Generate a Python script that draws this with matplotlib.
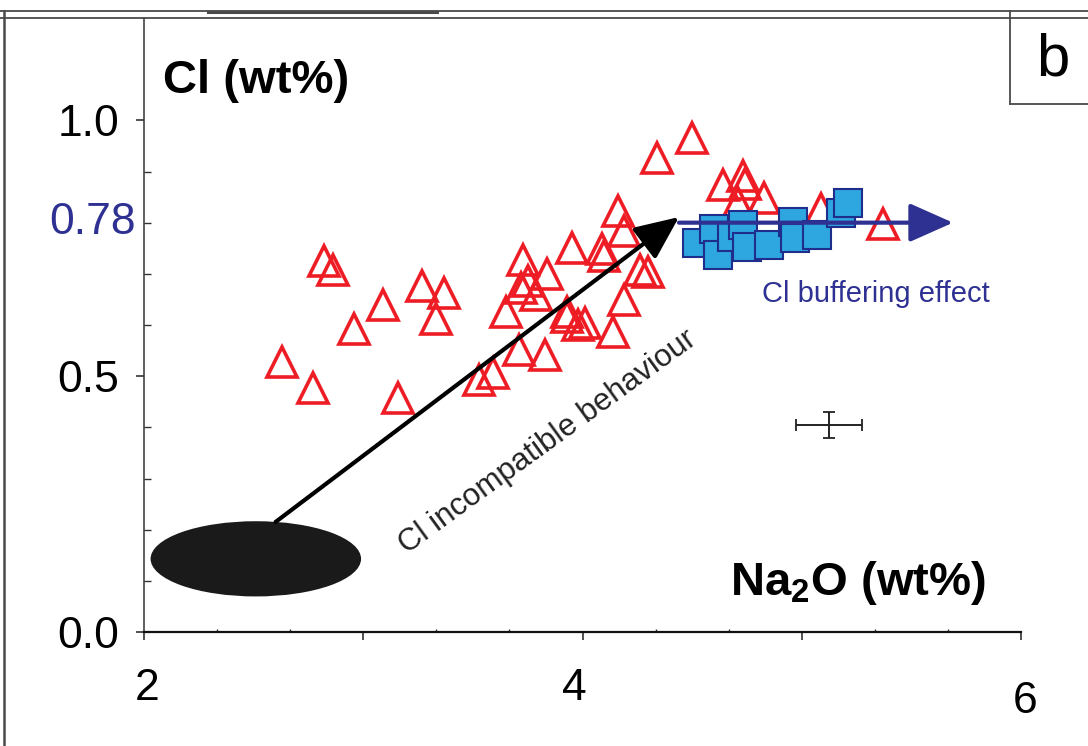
#!/usr/bin/env python3
"""Cl vs Na2O scatter, panel b."""

import matplotlib

matplotlib.use("Agg")
import matplotlib.pyplot as plt
import numpy as np
from matplotlib.lines import Line2D
from matplotlib.patches import Ellipse, FancyArrowPatch
from matplotlib.ticker import FixedLocator
from matplotlib.transforms import ScaledTranslation

# melt inclusions (open red triangles)
tri_na2o = [2.63, 2.77, 2.82, 2.86, 2.96, 3.09, 3.27, 3.37, 3.33, 3.16,
            3.53, 3.59, 3.65, 3.71, 3.73, 3.75, 3.72, 3.79, 3.84, 3.83,
            3.95, 3.93, 3.93, 3.98, 4.01, 4.14, 4.09, 4.10, 4.16, 4.19,
            4.19, 4.26, 4.30, 4.34, 4.50, 4.64, 4.73, 4.71, 4.83, 5.09,
            5.37, 4.74]
tri_cl = [0.528, 0.477, 0.725, 0.708, 0.592, 0.639, 0.676, 0.663, 0.612, 0.457,
          0.493, 0.506, 0.626, 0.551, 0.727, 0.686, 0.673, 0.659, 0.700, 0.542,
          0.751, 0.626, 0.616, 0.600, 0.604, 0.587, 0.749, 0.735, 0.823, 0.784,
          0.649, 0.708, 0.704, 0.927, 0.966, 0.874, 0.891, 0.839, 0.848, 0.827,
          0.798, 0.876]

# buffered group (blue squares)
sq_na2o = [4.52, 4.60, 4.62, 4.68, 4.73, 4.75, 4.85, 4.96, 4.97, 5.07, 5.18, 5.21]
sq_cl = [0.761, 0.788, 0.737, 0.772, 0.796, 0.753, 0.757, 0.802, 0.770, 0.776,
         0.819, 0.839]

# parental melt field
field_center = (2.51, 0.143)
field_width = 0.96
field_height = 0.147

# trends
incompat_start = (2.60, 0.215)
incompat_end = (4.44, 0.811)
buffer_level = 0.80
buffer_x = (4.44, 5.69)

# typical analytical error
err_x, err_y = 5.124, 0.405
err_dx, err_dy = 0.15, 0.025

x_ticks = [2, 3, 4, 5, 6]
x_labels = ["2", "", "4", "", "6"]
y_ticks = [0.0, 0.5, 1.0]
y_labels = ["0.0", "0.5", "1.0"]

RED = "#ee1c24"
NAVY = "#2e3192"
SQ_FILL = "#2ea6df"
SQ_EDGE = "#1f2d8c"
FRAME = "#4a4a4a"


def main() -> None:
    W, H = 1088, 746
    plt.rcParams.update({
        "font.family": ["Liberation Sans", "DejaVu Sans"],
        "mathtext.fontset": "custom",
        "mathtext.rm": "Liberation Sans:bold",
        "mathtext.bf": "Liberation Sans:bold",
        "mathtext.default": "bf",
    })
    fig = plt.figure(figsize=(W / 100, H / 100), dpi=100)
    ax = fig.add_axes([144 / W, (H - 632) / H, 877 / W, 614 / H])
    ax.set_xlim(2, 6)
    ax.set_ylim(0, 1.2)
    ax.patch.set_alpha(0)

    for side in ("top", "right"):
        ax.spines[side].set_visible(False)
    ax.spines["bottom"].set_linewidth(1.6)
    ax.spines["bottom"].set_color("#111111")
    ax.spines["left"].set_linewidth(1.1)
    ax.spines["left"].set_color("#333333")

    ax.set_xticks(x_ticks, x_labels)
    ax.xaxis.set_minor_locator(FixedLocator(np.arange(2, 6.01, 1 / 3)))
    ax.set_yticks(y_ticks, y_labels)
    ax.yaxis.set_minor_locator(FixedLocator(np.arange(0.1, 1.01, 0.1)))
    ax.tick_params(axis="both", which="major", direction="out", length=6,
                   width=1.1, labelsize=32, color="#222222")
    ax.tick_params(axis="x", which="major", pad=20)
    ax.tick_params(axis="y", which="major", pad=12)
    ax.tick_params(axis="both", which="minor", direction="in", length=5,
                   width=1.0, color="#333333")
    ax.tick_params(axis="x", which="minor", length=2.5)

    # staggered x tick labels as in the original panel
    offsets = [(2, 0), (0, 0), (-6, 0), (0, 0), (3, -9)]
    for lab, (dx, dy) in zip(ax.get_xticklabels(), offsets):
        lab.set_transform(lab.get_transform()
                          + ScaledTranslation(dx / 72, dy / 72, fig.dpi_scale_trans))

    ax.annotate("0.78", xy=(0, buffer_level), xycoords=("axes fraction", "data"),
                xytext=(-6, 0), textcoords="offset points", ha="right",
                va="center", fontsize=32, color=NAVY)

    ax.add_patch(Ellipse(field_center, field_width, field_height,
                         facecolor="#1a1a1a", edgecolor="none", zorder=2))

    ax.plot(tri_na2o, tri_cl, ls="none", marker="^", ms=21, mfc="none",
            mec=RED, mew=2.6, zorder=3)
    ax.plot(sq_na2o, sq_cl, ls="none", marker="s", ms=20.5, mfc=SQ_FILL,
            mec=SQ_EDGE, mew=1.5, zorder=4)

    ax.add_patch(FancyArrowPatch(incompat_start, incompat_end,
                                 arrowstyle="-|>,head_length=1.35,head_width=0.6",
                                 mutation_scale=20, lw=3, color="black",
                                 shrinkA=0, shrinkB=0, zorder=5))
    ax.add_patch(FancyArrowPatch((buffer_x[0], buffer_level), (buffer_x[1], buffer_level),
                                 arrowstyle="-|>,head_length=1.35,head_width=0.6",
                                 mutation_scale=20, lw=3, color=NAVY,
                                 shrinkA=0, shrinkB=0, zorder=6))

    ax.errorbar(err_x, err_y, xerr=err_dx, yerr=err_dy, color="#222222",
                elinewidth=1.4, capsize=4, capthick=1.3, zorder=5)

    ax.text(3.843, 0.371, "Cl incompatible behaviour", rotation=36,
            rotation_mode="anchor", ha="center", va="center", fontsize=22.5,
            color="#222222")
    ax.text(5.34, 0.661, "Cl buffering effect", ha="center", va="center",
            fontsize=21, color=NAVY)
    ax.text(4.673, 0.072, r"Na$_2$O (wt%)", ha="left", va="baseline",
            fontsize=34, fontweight="bold")

    fig.text(163 / W, 1 - 93 / H, "Cl (wt%)", ha="left", va="baseline",
             fontsize=34, fontweight="bold")
    fig.text(1053 / W, 1 - 60 / H, "b", ha="center", va="center", fontsize=43)

    # panel frame
    def fline(x0, y0, x1, y1, lw=1.3):
        fig.add_artist(Line2D([x0 / W, x1 / W], [1 - y0 / H, 1 - y1 / H],
                              color=FRAME, lw=lw))

    fline(0, 11, W, 11)
    fline(0, 18, W, 18)
    fline(208, 12, 437, 12, lw=2.2)
    fline(4, 11, 4, H, lw=1.8)
    fline(1010, 11, 1010, 104)
    fline(1010, 104, W, 104)

    fig.savefig("out.png", dpi=100)
    plt.close(fig)


if __name__ == "__main__":
    main()
